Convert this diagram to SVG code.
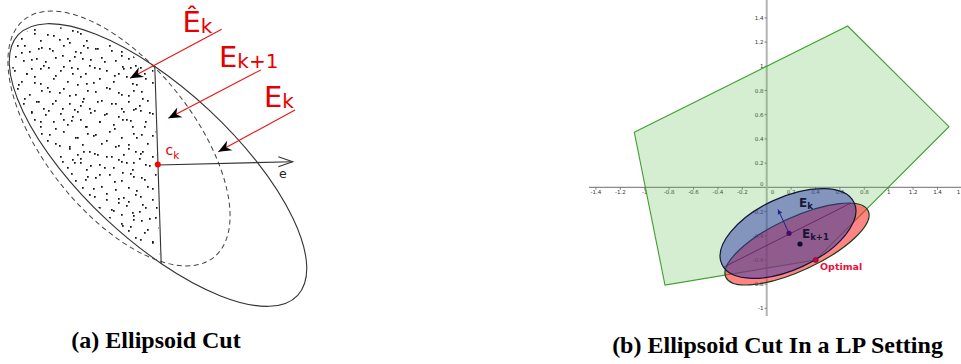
<svg xmlns="http://www.w3.org/2000/svg" width="961" height="364" viewBox="0 0 961 364">
<defs>
<style>
.lbl{font-family:"DejaVu Sans","Liberation Sans",sans-serif;fill:#e60000}
.cap{font-family:"Liberation Serif","Times New Roman",serif;font-weight:bold;font-size:24px;fill:#000;text-anchor:middle}
.tk{font-family:"DejaVu Sans","Liberation Sans",sans-serif;font-size:5.5px;fill:#333}
.tx{text-anchor:middle}
.ty{text-anchor:end}
.ptr{stroke:#ee1111;stroke-width:1.1;fill:none;marker-end:url(#dart)}
.gg{font-family:"DejaVu Sans","Liberation Sans",sans-serif;font-weight:bold}
.dots{fill:#151515;stroke:none}
</style>
<marker id="dart" viewBox="-14 -6 16 12" refX="0" refY="0" markerWidth="16" markerHeight="12" markerUnits="userSpaceOnUse" orient="auto"><path d="M0,0 L-13,-5.5 L-9,0 L-13,5.5 Z" fill="#000"/></marker>
<marker id="ah" viewBox="-6 -3 7 6" refX="0" refY="0" markerWidth="7" markerHeight="6" markerUnits="userSpaceOnUse" orient="auto"><path d="M0,0 L-5,-2.5 L-4,0 L-5,2.5Z" fill="#20208a"/></marker>
<pattern id="p1" width="46" height="43" patternUnits="userSpaceOnUse"><path class="dots" d="M3 5h1.7v1.7h-1.7zM17 2h1.7v1.7h-1.7zM29 8h1.7v1.7h-1.7zM41 4h1.7v1.7h-1.7zM9 14h1.7v1.7h-1.7zM23 17h1.7v1.7h-1.7zM36 15h1.7v1.7h-1.7zM2 24h1.7v1.7h-1.7zM14 27h1.7v1.7h-1.7zM31 25h1.7v1.7h-1.7zM43 22h1.7v1.7h-1.7zM7 35h1.7v1.7h-1.7zM21 38h1.7v1.7h-1.7zM34 33h1.7v1.7h-1.7zM40 40h1.7v1.7h-1.7zM26 30h1.7v1.7h-1.7z"/></pattern>
<pattern id="p2" x="7" y="11" width="59" height="53" patternUnits="userSpaceOnUse"><path class="dots" d="M5 3h1.7v1.7h-1.7zM19 9h1.7v1.7h-1.7zM33 4h1.7v1.7h-1.7zM48 11h1.7v1.7h-1.7zM56 2h1.7v1.7h-1.7zM11 20h1.7v1.7h-1.7zM27 18h1.7v1.7h-1.7zM40 23h1.7v1.7h-1.7zM52 28h1.7v1.7h-1.7zM3 31h1.7v1.7h-1.7zM17 34h1.7v1.7h-1.7zM31 37h1.7v1.7h-1.7zM45 39h1.7v1.7h-1.7zM8 45h1.7v1.7h-1.7zM24 48h1.7v1.7h-1.7zM38 50h1.7v1.7h-1.7zM55 44h1.7v1.7h-1.7zM14 41h1.7v1.7h-1.7z"/></pattern>
<clipPath id="cEll"><ellipse cx="158" cy="165" rx="188" ry="72" transform="rotate(43 158 165)"/></clipPath>
<clipPath id="cHalf"><path d="M-10,-10 L151,-10 L161.3,320 L-10,320Z"/></clipPath>
</defs>
<rect width="961" height="364" fill="#fff"/>

<!-- Panel (a) -->
<g id="Ehat-points" clip-path="url(#cEll)"><g clip-path="url(#cHalf)"><rect x="0" y="0" width="170" height="320" fill="url(#p1)"/><rect x="0" y="0" width="170" height="320" fill="url(#p2)"/></g></g>
<g id="Ek-ellipse"><ellipse cx="158" cy="165" rx="191" ry="75" transform="rotate(43 158 165)" fill="none" stroke="#333" stroke-width="1.1"/></g>
<g id="Ek1-ellipse"><ellipse cx="119" cy="138.5" rx="152" ry="74" transform="rotate(51.4 119 138.5)" fill="none" stroke="#444" stroke-width="1" stroke-dasharray="5 3.5"/></g>
<g id="cut-chord"><line x1="154.8" y1="66.5" x2="161.2" y2="263.5" stroke="#333" stroke-width="1.1"/></g>
<g id="direction-e"><line x1="158" y1="165" x2="292.7" y2="161.7" stroke="#333" stroke-width="1.1"/><path d="M278.3,156.7 L292.7,161.7 L278.3,166.7" fill="none" stroke="#333" stroke-width="1.1"/><text x="279" y="178" font-family="DejaVu Sans, Liberation Sans, sans-serif" font-size="12.5" fill="#222">e</text></g>
<g id="ck"><circle cx="157.8" cy="164.6" r="3" fill="#ff0000"/><text class="lbl" x="165.5" y="155" font-size="14">c<tspan font-size="10.5" dy="3.5">k</tspan></text></g>
<g id="label-Ehat"><text class="lbl" x="182.5" y="31.7" font-size="29">Ê<tspan font-size="20" dy="0.8">k</tspan></text></g>
<g id="label-Ek1"><text class="lbl" x="219" y="66.7" font-size="29">E<tspan font-size="20" dy="1.3">k+1</tspan></text></g>
<g id="label-Ek"><text class="lbl" x="264" y="107.3" font-size="29">E<tspan font-size="20" dy="1">k</tspan></text></g>
<g id="connectors-a">
<line class="ptr" x1="221.7" y1="29.3" x2="130" y2="78.3"/>
<line class="ptr" x1="260.7" y1="70" x2="168.3" y2="118.3"/>
<line class="ptr" x1="295" y1="110" x2="218.3" y2="151.7"/>
</g>

<!-- Panel (b) -->
<g id="axes">
<line x1="589" y1="187.3" x2="961" y2="187.3" stroke="#8a8a8a" stroke-width="1.2"/>
<line x1="766.7" y1="0" x2="766.7" y2="316" stroke="#b4b4b4" stroke-width="2"/>
<path d="M595.9 187.3v2.5M620.3 187.3v2.5M644.7 187.3v2.5M669.1 187.3v2.5M693.5 187.3v2.5M717.9 187.3v2.5M742.3 187.3v2.5M791.1 187.3v2.5M815.5 187.3v2.5M839.9 187.3v2.5M864.3 187.3v2.5M888.7 187.3v2.5M913.1 187.3v2.5M937.5 187.3v2.5M764.5 17.9h2.2M764.5 42.1h2.2M764.5 66.3h2.2M764.5 90.5h2.2M764.5 114.7h2.2M764.5 138.9h2.2M764.5 163.1h2.2M764.5 211.5h2.2M764.5 235.7h2.2M764.5 259.9h2.2M764.5 284.1h2.2M764.5 308.3h2.2" stroke="#555" stroke-width="0.7"/>
<g class="tk tx">
<text x="595.9" y="194">-1.4</text><text x="620.3" y="194">-1.2</text><text x="644.7" y="194">-1</text><text x="669.1" y="194">-0.8</text><text x="693.5" y="194">-0.6</text><text x="717.9" y="194">-0.4</text><text x="742.3" y="194">-0.2</text><text x="772.5" y="194">0</text><text x="791.1" y="194">0.2</text><text x="815.5" y="194">0.4</text><text x="839.9" y="194">0.6</text><text x="864.3" y="194">0.8</text><text x="888.7" y="194">1</text><text x="913.1" y="194">1.2</text><text x="937.5" y="194">1.4</text><text x="958.5" y="194">1</text>
</g>
<g class="tk ty">
<text x="763.5" y="19.9">1.4</text><text x="763.5" y="44.1">1.2</text><text x="763.5" y="68.3">1</text><text x="763.5" y="92.5">0.8</text><text x="763.5" y="116.7">0.6</text><text x="763.5" y="140.9">0.4</text><text x="763.5" y="165.1">0.2</text><text x="763.5" y="185.5">0</text><text x="763.5" y="213.5">-0.2</text><text x="763.5" y="237.7">-0.4</text><text x="763.5" y="261.9">-0.6</text><text x="763.5" y="286.1">-0.8</text><text x="763.5" y="310.3">-1</text>
</g>
</g>
<g id="feasible-polygon"><polygon points="634.3,132.3 847.7,26 949,126.7 815.7,260 665,285" fill="#5cb84a" fill-opacity="0.26" stroke="#3f9f30" stroke-width="1.1"/></g>
<g id="Ek1-ellipse-b"><ellipse cx="797" cy="244" rx="78.5" ry="26.5" transform="rotate(-25 797 244)" fill="#ff2020" fill-opacity="0.55" stroke="#1b3b1b" stroke-width="1.2"/></g>
<g id="Ek-ellipse-b"><ellipse cx="788" cy="233.5" rx="73" ry="36" transform="rotate(-25 788 233.5)" fill="#323caa" fill-opacity="0.5" stroke="#16163a" stroke-width="1.2"/></g>
<g id="connectors-b">
<line x1="724" y1="267" x2="851" y2="203" stroke="#5a1e5a" stroke-width="0.8"/>
<line x1="789" y1="233.3" x2="778" y2="209.5" stroke="#20208a" stroke-width="1" marker-end="url(#ah)"/>
</g>
<g id="center-Ek"><circle cx="789" cy="233.3" r="2.6" fill="#4a0a6a"/></g>
<g id="center-Ek1"><circle cx="800" cy="244" r="2.6" fill="#0a0a30"/></g>
<g id="optimal"><circle cx="815.7" cy="260" r="2.6" fill="#b01040" stroke="#700020" stroke-width="0.5"/><text class="gg" x="820" y="270" font-size="9.5" fill="#e8103a">Optimal</text></g>
<g id="label-Ek-b"><text class="gg" x="799" y="206.5" font-size="12" fill="#16163a">E<tspan font-size="8.5" dy="2">k</tspan></text></g>
<g id="label-Ek1-b"><text class="gg" x="802" y="238.3" font-size="12" fill="#16163a">E<tspan font-size="8.5" dy="2">k+1</tspan></text></g>

<!-- Captions -->
<text class="cap" x="156" y="348">(a) Ellipsoid Cut</text>
<text class="cap" x="777.5" y="353">(b) Ellipsoid Cut In a LP Setting</text>
</svg>
